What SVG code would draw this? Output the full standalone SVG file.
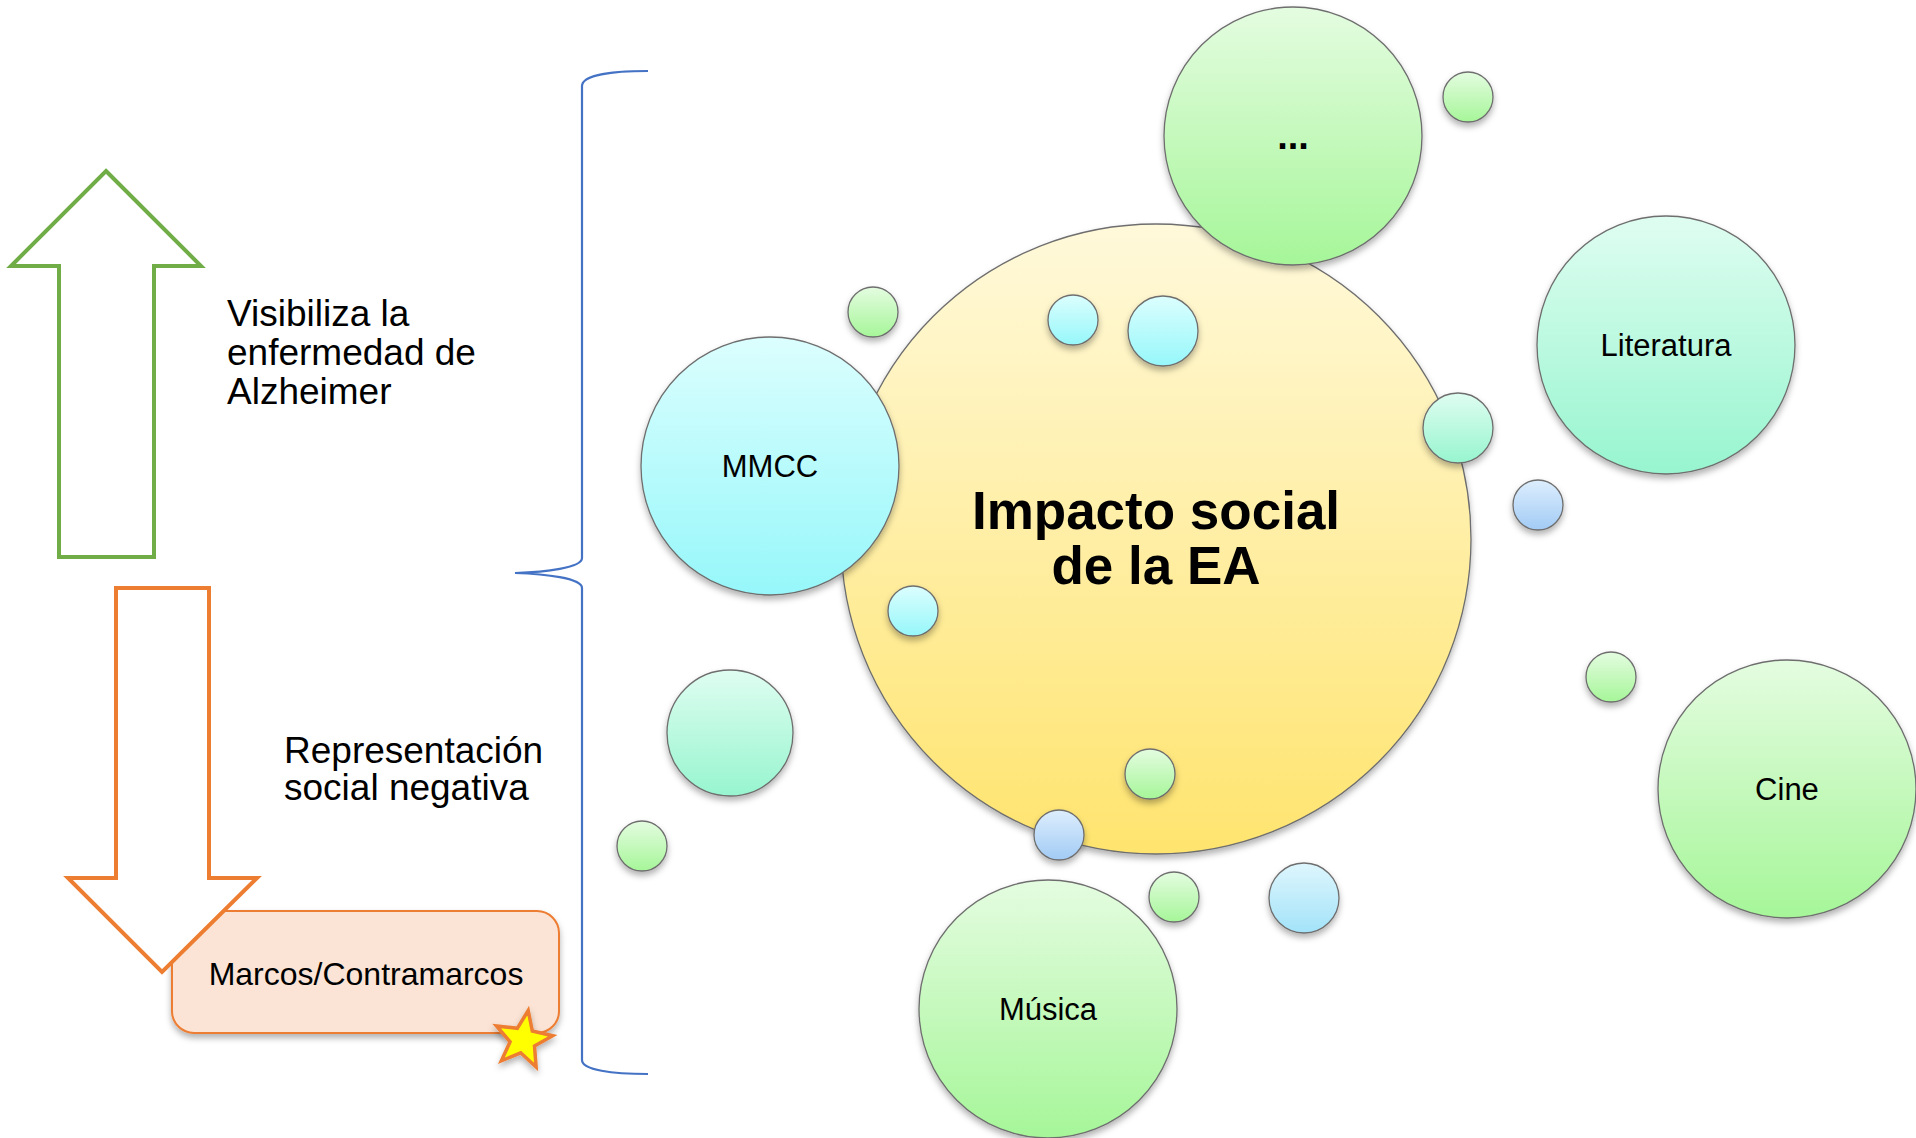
<svg xmlns="http://www.w3.org/2000/svg" width="1916" height="1138" viewBox="0 0 1916 1138">
<defs>
<linearGradient id="gYellow" x1="0" y1="0" x2="0" y2="1"><stop offset="0" stop-color="#FFF9DB"/><stop offset="1" stop-color="#FFE46E"/></linearGradient>
<linearGradient id="gGreen" x1="0" y1="0" x2="0" y2="1"><stop offset="0" stop-color="#E4FCE0"/><stop offset="1" stop-color="#A6F699"/></linearGradient>
<linearGradient id="gCyan" x1="0" y1="0" x2="0" y2="1"><stop offset="0" stop-color="#DCFEFE"/><stop offset="1" stop-color="#96F7FA"/></linearGradient>
<linearGradient id="gMint" x1="0" y1="0" x2="0" y2="1"><stop offset="0" stop-color="#DFFDF1"/><stop offset="1" stop-color="#97F5CF"/></linearGradient>
<linearGradient id="gBlue" x1="0" y1="0" x2="0" y2="1"><stop offset="0" stop-color="#DDEEFD"/><stop offset="1" stop-color="#A2CBF5"/></linearGradient>
<linearGradient id="gLBlue" x1="0" y1="0" x2="0" y2="1"><stop offset="0" stop-color="#DEF6FD"/><stop offset="1" stop-color="#A3E3F9"/></linearGradient>
<filter id="shadow" x="-20%" y="-20%" width="140%" height="150%"><feDropShadow dx="0" dy="4" stdDeviation="3" flood-color="#000" flood-opacity="0.3"/></filter>
</defs>
<style>
.bub{stroke:#6E6E6E;stroke-width:1.3;filter:url(#shadow)}
.lbl{font-family:"Liberation Sans",Arial,sans-serif;font-size:31px;fill:#000;text-anchor:middle}
.side{font-family:"Liberation Sans",Arial,sans-serif;font-size:37px;fill:#000}
.title{font-family:"Liberation Sans",Arial,sans-serif;font-size:53px;font-weight:bold;fill:#000;text-anchor:middle}
</style>
<rect width="1916" height="1138" fill="#FFFFFF"/>

<g id="arrow-up">
<polygon points="106,171 201,266 154,266 154,557 59,557 59,266 11,266" fill="#FFFFFF" stroke="#70AD47" stroke-width="4" stroke-linejoin="miter"/>
</g>
<g id="text-visibiliza">
<text class="side" x="227" y="326">Visibiliza la</text>
<text class="side" x="227" y="365">enfermedad de</text>
<text class="side" x="227" y="404">Alzheimer</text>
</g>

<g id="box-marcos">
<rect x="172" y="911" width="387" height="122" rx="22" ry="22" fill="#FBE4D5" stroke="#ED7D31" stroke-width="2" filter="url(#shadow)"/>
<text class="lbl" x="366" y="985" style="font-size:32px">Marcos/Contramarcos</text>
</g>
<g id="arrow-down">
<polygon points="116,588 209,588 209,878 257,878 162,972 68,878 116,878" fill="#FFFFFF" stroke="#ED7D31" stroke-width="4" stroke-linejoin="miter"/>
</g>
<g id="star">
<polygon points="528.2,1010.5 532.3,1031 552.7,1035.8 534.5,1046.1 536.1,1067 520.7,1052.8 501.4,1060.8 510.1,1041.8 496.5,1025.9 517.3,1028.3" fill="#FFFF00" stroke="#ED7D31" stroke-width="3.5" stroke-linejoin="miter" filter="url(#shadow)"/>
</g>
<g id="text-representacion">
<text class="side" x="284" y="763">Representación</text>
<text class="side" x="284" y="800">social negativa</text>
</g>

<g id="connectors">
<path d="M648,71 C612,71 582,75 582,86 L582,558 C582,568 545,572 515,573 C545,574 582,578 582,588 L582,1060 C582,1070 612,1074 648,1074" fill="none" stroke="#4472C4" stroke-width="2.2"/>
</g>

<g id="node-impacto">
<circle class="bub" cx="1156" cy="539" r="315" fill="url(#gYellow)"/>
<text class="title" x="1156" y="529">Impacto social</text>
<text class="title" x="1156" y="584">de la EA</text>
</g>
<g id="node-etc">
<circle class="bub" cx="1293" cy="136" r="129" fill="url(#gGreen)"/>
<text class="lbl" x="1293" y="149" style="font-size:38px;font-weight:bold">...</text>
</g>
<g id="node-mmcc">
<circle class="bub" cx="770" cy="466" r="129" fill="url(#gCyan)"/>
<text class="lbl" x="770" y="477">MMCC</text>
</g>
<g id="node-literatura">
<circle class="bub" cx="1666" cy="345" r="129" fill="url(#gMint)"/>
<text class="lbl" x="1666" y="356">Literatura</text>
</g>
<g id="node-cine">
<circle class="bub" cx="1787" cy="789" r="129" fill="url(#gGreen)"/>
<text class="lbl" x="1787" y="800">Cine</text>
</g>
<g id="node-musica">
<circle class="bub" cx="1048" cy="1009" r="129" fill="url(#gGreen)"/>
<text class="lbl" x="1048" y="1020">Música</text>
</g>
<g id="bubbles">
<circle class="bub" cx="730" cy="733" r="63" fill="url(#gMint)"/>
<circle class="bub" cx="873" cy="312" r="25" fill="url(#gGreen)"/>
<circle class="bub" cx="1073" cy="320" r="25" fill="url(#gCyan)"/>
<circle class="bub" cx="1163" cy="331" r="35" fill="url(#gCyan)"/>
<circle class="bub" cx="1468" cy="97" r="25" fill="url(#gGreen)"/>
<circle class="bub" cx="1458" cy="428" r="35" fill="url(#gMint)"/>
<circle class="bub" cx="1538" cy="505" r="25" fill="url(#gBlue)"/>
<circle class="bub" cx="913" cy="611" r="25" fill="url(#gCyan)"/>
<circle class="bub" cx="1611" cy="677" r="25" fill="url(#gGreen)"/>
<circle class="bub" cx="1150" cy="774" r="25" fill="url(#gGreen)"/>
<circle class="bub" cx="1059" cy="835" r="25" fill="url(#gBlue)"/>
<circle class="bub" cx="642" cy="846" r="25" fill="url(#gGreen)"/>
<circle class="bub" cx="1174" cy="897" r="25" fill="url(#gGreen)"/>
<circle class="bub" cx="1304" cy="898" r="35" fill="url(#gLBlue)"/>
</g>
</svg>
